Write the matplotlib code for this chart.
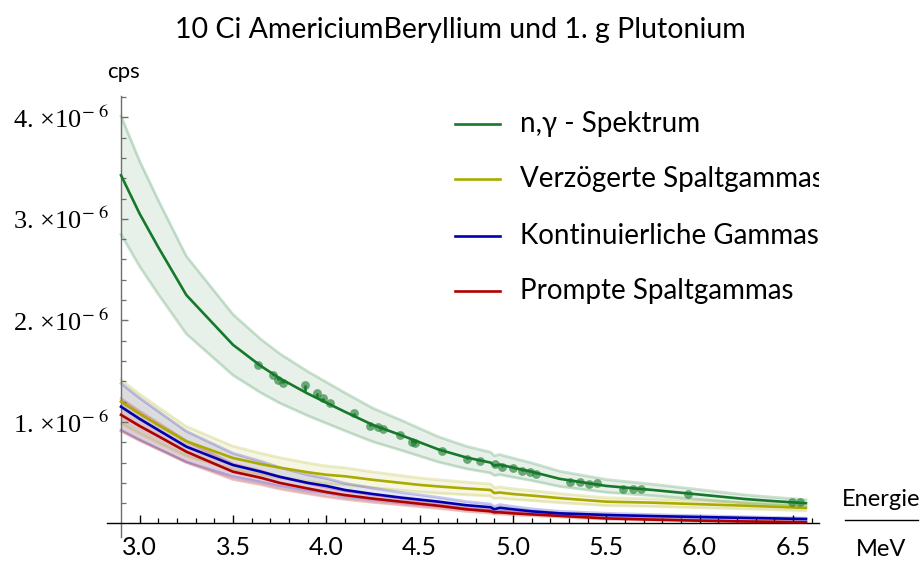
import numpy as np
import matplotlib
matplotlib.use("Agg")
import matplotlib.pyplot as plt
from matplotlib.ticker import FixedLocator, FuncFormatter

plt.rcParams["font.family"] = ["Lato", "DejaVu Sans"]
plt.rcParams["mathtext.fontset"] = "stix"

# Energy grid (MeV) and count rates (in units of 1e-6 cps)
energy = [2.9, 3.0, 3.1, 3.25, 3.5, 3.65, 3.75, 3.9, 4.0, 4.1, 4.25, 4.4, 4.5, 4.6,
          4.75, 4.88, 4.9, 4.93, 5.0, 5.1, 5.25, 5.5, 5.75, 6.0, 6.25, 6.4, 6.57]
n_gamma = [3.43, 3.05, 2.72, 2.25, 1.76, 1.55, 1.43, 1.28, 1.19, 1.10, 0.97, 0.87, 0.80, 0.73,
           0.65, 0.60, 0.57, 0.58, 0.55, 0.51, 0.44, 0.37, 0.33, 0.285, 0.24, 0.22, 0.20]
delayed = [1.20, 1.08, 0.97, 0.81, 0.645, 0.585, 0.55, 0.505, 0.48, 0.465, 0.43, 0.40, 0.38, 0.365,
           0.345, 0.33, 0.30, 0.305, 0.29, 0.275, 0.25, 0.215, 0.205, 0.19, 0.175, 0.165, 0.153]
continuum = [1.15, 1.03, 0.92, 0.757, 0.576, 0.51, 0.46, 0.40, 0.37, 0.33, 0.29, 0.255, 0.235, 0.215,
             0.18, 0.16, 0.14, 0.155, 0.14, 0.12, 0.10, 0.084, 0.073, 0.064, 0.055, 0.05, 0.044]
prompt = [1.07, 0.96, 0.86, 0.707, 0.51, 0.45, 0.40, 0.345, 0.31, 0.28, 0.245, 0.215, 0.195, 0.175,
          0.14, 0.12, 0.11, 0.11, 0.10, 0.09, 0.075, 0.05, 0.038, 0.028, 0.02, 0.016, 0.012]

# Relative uncertainty of each spectrum (shaded band)
rel_unc = {"n_gamma": 0.17, "delayed": 0.18, "continuum": 0.20, "prompt": 0.15}

# Discrete n,gamma lines (MeV, 1e-6 cps)
line_e = [3.634, 3.714, 3.741, 3.768, 3.886, 3.950, 3.982, 4.019, 4.148, 4.234, 4.277, 4.303,
          4.394, 4.459, 4.475, 4.619, 4.753, 4.823, 4.903, 4.941, 5.000, 5.048, 5.091, 5.123,
          5.305, 5.358, 5.407, 5.450, 5.589, 5.642, 5.685, 5.937, 6.494, 6.537]
line_rate = [1.562, 1.463, 1.414, 1.384, 1.365, 1.286, 1.236, 1.187, 1.089, 0.961, 0.951, 0.931,
             0.872, 0.803, 0.793, 0.714, 0.635, 0.616, 0.586, 0.557, 0.547, 0.517, 0.507, 0.488,
             0.409, 0.409, 0.389, 0.399, 0.340, 0.340, 0.340, 0.291, 0.212, 0.212]

labels = ["n,γ - Spektrum", "Verzögerte Spaltgammas", "Kontinuierliche Gammas", "Prompte Spaltgammas"]
colors = ["#16782a", "#aaaa00", "#0000b0", "#b00000"]

fig = plt.figure(figsize=(9.21, 5.65), dpi=100)
ax = fig.add_axes([107 / 921, 28 / 565, 712 / 921, 441 / 565])

x = np.array(energy)
series = [(np.array(n_gamma), rel_unc["n_gamma"]),
          (np.array(delayed), rel_unc["delayed"]),
          (np.array(continuum), rel_unc["continuum"]),
          (np.array(prompt), rel_unc["prompt"])]

# uncertainty bands first
for (y, r), c in zip(series, colors):
    lo, hi = y * (1 - r), y * (1 + r)
    ax.fill_between(x, lo, hi, color=c, alpha=0.10, lw=0, zorder=1)
    ax.plot(x, lo, color=c, alpha=0.22, lw=2.0, zorder=1.5)
    ax.plot(x, hi, color=c, alpha=0.22, lw=2.0, zorder=1.5)

# central curves, drawn back to front
for (y, r), c in list(zip(series, colors))[::-1]:
    ax.plot(x, y, color=c, lw=1.9, zorder=3, solid_joinstyle="round")

# discrete lines on the n,gamma spectrum
le = np.array(line_e)
lr = np.array(line_rate)
base = np.interp(le, x, np.array(n_gamma))
ax.vlines(le, base, lr, color=colors[0], lw=1.8, zorder=3)
ax.scatter(le, lr, s=40, color=colors[0], alpha=0.6, lw=0, zorder=4)

# axes styling
ax.set_xlim(2.825, 6.64)
ax.set_ylim(-0.133, 4.21)
for s in ("top", "right"):
    ax.spines[s].set_visible(False)
ax.spines["left"].set_position(("data", 2.9))
ax.spines["bottom"].set_position(("data", 0.0))
ax.spines["left"].set_color("#6e6e6e")
ax.spines["bottom"].set_color("black")
ax.spines["left"].set_linewidth(1.0)
ax.spines["bottom"].set_linewidth(1.0)

ax.xaxis.set_major_locator(FixedLocator([3.0, 3.5, 4.0, 4.5, 5.0, 5.5, 6.0, 6.5]))
ax.xaxis.set_minor_locator(FixedLocator(np.round(np.arange(3.1, 6.65, 0.1), 2)))
ax.xaxis.set_major_formatter(FuncFormatter(lambda v, p: f"{v:.1f}"))
ax.yaxis.set_major_locator(FixedLocator([1, 2, 3, 4]))
ax.yaxis.set_minor_locator(FixedLocator(np.round(np.arange(0.2, 4.21, 0.2), 2)))
ax.yaxis.set_major_formatter(FuncFormatter(lambda v, p: f"{v:.0f}. ×10$^{{-\\ 6}}$"))

ax.tick_params(axis="x", which="both", direction="in", color="black", labelsize=18, pad=9)
ax.tick_params(axis="x", which="major", length=6, width=1.0)
ax.tick_params(axis="x", which="minor", length=3.5, width=0.9)
ax.tick_params(axis="y", which="both", direction="in", color="#6e6e6e", labelsize=19, pad=9)
ax.tick_params(axis="y", which="major", length=5, width=1.0)
ax.tick_params(axis="y", which="minor", length=3.5, width=0.9)
for t in ax.get_yticklabels():
    t.set_fontfamily(["Liberation Serif", "DejaVu Serif"])

# legend drawn inside the plot range (clipped at its right edge)
leg_y = [3.93, 3.39, 2.83, 2.29]
for lab, c, yy in zip(labels, colors, leg_y):
    ax.plot([4.69, 4.93], [yy, yy], color=c, lw=1.9, zorder=5)
    ax.text(5.037, yy, lab, fontsize=20, va="center", ha="left", clip_on=True, zorder=5)

# titles and axis labels
fig.text(0.5 * (175 + 745) / 921, 1 - 30 / 565, "10 Ci AmericiumBeryllium und 1. g Plutonium",
         ha="center", va="center", fontsize=20.5)
fig.text(123 / 921, 1 - 72 / 565, "cps", ha="center", va="center", fontsize=16)
fig.text(881 / 921, 1 - 500 / 565, "Energie", ha="center", va="center", fontsize=17)
fig.text(881 / 921, 1 - 549 / 565, "MeV", ha="center", va="center", fontsize=17)
fig.add_artist(plt.Line2D([845 / 921, 918 / 921], [1 - 520 / 565, 1 - 520 / 565],
                          color="black", lw=1.0, transform=fig.transFigure))

fig.savefig("out.png", dpi=100)
